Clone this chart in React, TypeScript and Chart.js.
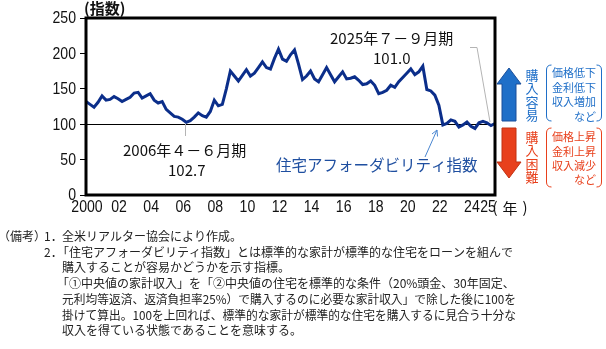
import React, { useEffect, useRef } from "react";
import { Chart, registerables } from "chart.js";

Chart.register(...registerables);

// Quarterly periods 2000Q1 .. 2025Q3
const startYear = 2000;
const endYear = 2025;
const lastQuarter = 3;

// Housing Affordability Index (quarterly)
const hai2000s = [
  132, 128, 124, 131, // 2000
  140, 134, 135, 139, // 2001
  136, 132, 135, 138, // 2002
  144, 145, 137, 140, // 2003
  143, 134, 130, 132, // 2004
  121, 116, 111, 110, // 2005
  107, 102.7, 105, 110, // 2006
  116, 112, 110, 118, // 2007
  134, 126, 128, 150, // 2008
  175, 168, 161, 169, // 2009
];
const hai2010s = [
  177, 168, 172, 180, // 2010
  188, 180, 178, 193, // 2011
  206, 192, 189, 198, // 2012
  205, 185, 163, 168, // 2013
  175, 164, 160, 170, // 2014
  180, 170, 160, 167, // 2015
  174, 164, 165, 167, // 2016
  162, 156, 157, 161, // 2017
  155, 143, 145, 148, // 2018
  155, 152, 160, 166, // 2019
];
const hai2020s = [
  172, 178, 170, 174, // 2020
  182, 149, 147, 141, // 2021
  127, 99, 101, 106, // 2022
  104, 96, 99, 103, // 2023
  97, 94, 102, 104, // 2024
  102, 98, 101.0, // 2025
];

// x tick labels (shown at Q1 of the year)
const tickYears = [2000, 2002, 2004, 2006, 2008, 2010, 2012, 2014, 2016, 2018, 2020, 2022, 2024, 2025];
const tickTexts = ["2000", "02", "04", "06", "08", "10", "12", "14", "16", "18", "20", "22", "24", "25"];

const yTicks = [0, 50, 100, 150, 200, 250];

const notes = [
  "全米リアルター協会により作成。",
  "「住宅アフォーダビリティ指数」とは標準的な家計が標準的な住宅をローンを組んで",
  "購入することが容易かどうかを示す指標。",
  "「①中央値の家計収入」を「②中央値の住宅を標準的な条件（20%頭金、30年固定、",
  "元利均等返済、返済負担率25%）で購入するのに必要な家計収入」で除した後に100を",
  "掛けて算出。100を上回れば、標準的な家計が標準的な住宅を購入するに見合う十分な",
  "収入を得ている状態であることを意味する。",
];

const SANS = "'Liberation Sans', Arial, sans-serif";
const JP = "'Noto Sans CJK JP', sans-serif";

const labels: string[] = [];
for (let y = startYear; y <= endYear; y++) {
  for (let q = 1; q <= 4; q++) {
    if (y === endYear && q > lastQuarter) break;
    labels.push(`${y}Q${q}`);
  }
}
const values = [...hai2000s, ...hai2010s, ...hai2020s];

const BLUE = "#1f6fc8";
const RED = "#e8401c";

function bracket(ctx: CanvasRenderingContext2D, x: number, top: number, bottom: number, dir: number) {
  const r = 5;
  ctx.beginPath();
  ctx.moveTo(x + dir * r, top);
  ctx.quadraticCurveTo(x, top, x, top + r);
  ctx.lineTo(x, bottom - r);
  ctx.quadraticCurveTo(x, bottom, x + dir * r, bottom);
  ctx.stroke();
}

function arrow(ctx: CanvasRenderingContext2D, cx: number, tip: number, headBase: number, tail: number, fill: string, stroke: string) {
  const hw = 12, sw = 7;
  ctx.beginPath();
  ctx.moveTo(cx, tip);
  ctx.lineTo(cx + hw, headBase);
  ctx.lineTo(cx + sw, headBase);
  ctx.lineTo(cx + sw, tail);
  ctx.lineTo(cx - sw, tail);
  ctx.lineTo(cx - sw, headBase);
  ctx.lineTo(cx - hw, headBase);
  ctx.closePath();
  ctx.fillStyle = fill;
  ctx.fill();
  ctx.strokeStyle = stroke;
  ctx.lineWidth = 1;
  ctx.stroke();
}

function narrowText(ctx: CanvasRenderingContext2D, t: string, x: number, y: number, sx: number) {
  ctx.save();
  ctx.translate(x, y);
  ctx.scale(sx, 1);
  ctx.fillText(t, 0, 0);
  ctx.restore();
}

const decorPlugin = {
  id: "decor",
  afterDraw(chart: any) {
    const { ctx, chartArea } = chart;
    const { left, top, right, bottom } = chartArea;
    const xs = chart.scales.x;
    const ysc = chart.scales.y;
    ctx.save();
    // frame
    ctx.strokeStyle = "#000";
    ctx.lineWidth = 3;
    ctx.strokeRect(left, top, right - left, bottom - top);

    // tick labels via the scales
    ctx.fillStyle = "#111";
    ctx.font = `16px ${SANS}`;
    ctx.textBaseline = "middle";
    ctx.textAlign = "right";
    yTicks.forEach((v) => {
      narrowText(ctx, String(v), 76, ysc.getPixelForValue(v) + 1, 0.88);
    });
    ctx.textAlign = "center";
    tickYears.forEach((yr, i) => {
      const idx = labels.indexOf(`${yr}Q1`);
      narrowText(ctx, tickTexts[i], xs.getPixelForValue(idx) + 1, 208, 0.88);
    });

    // (指数)
    ctx.textAlign = "left";
    ctx.font = `bold 15px ${JP}`;
    ctx.fillText("(指数)", 84, 8);

    // (年)
    ctx.font = `15px ${JP}`;
    ctx.textAlign = "center";
    ctx.fillText("(", 495, 207);
    ctx.fillText("年", 510, 208);
    ctx.fillText(")", 525, 207);

    // annotations
    ctx.textAlign = "left";
    ctx.font = `15px ${JP}`;
    ctx.fillStyle = "#111";
    ctx.fillText("2006年４－６月期", 123, 150);
    ctx.fillText("102.7", 168, 170);
    ctx.fillText("2025年７－９月期", 330, 38);
    ctx.fillText("101.0", 373, 58);

    ctx.strokeStyle = "#b4b4b4";
    ctx.lineWidth = 1;
    ctx.beginPath();
    ctx.moveTo(185.5, 124);
    ctx.lineTo(185.5, 136);
    ctx.stroke();
    ctx.beginPath();
    ctx.moveTo(470, 47.5);
    ctx.lineTo(477, 47.5);
    ctx.lineTo(490, 122);
    ctx.stroke();

    // series label
    ctx.fillStyle = "#1f4fa0";
    ctx.font = `15.5px ${JP}`;
    ctx.fillText("住宅アフォーダビリティ指数", 276, 165);
    ctx.strokeStyle = "#4a86d0";
    ctx.lineWidth = 1;
    ctx.beginPath();
    ctx.moveTo(425, 157);
    ctx.lineTo(437, 130);
    ctx.stroke();
    ctx.beginPath();
    ctx.moveTo(432, 134);
    ctx.lineTo(437, 130);
    ctx.lineTo(437.5, 136.5);
    ctx.stroke();

    // right arrows
    arrow(ctx, 509, 68, 84, 121, BLUE, "#1a4f9a");
    arrow(ctx, 509, 178, 162, 128, RED, "#c03010");

    // vertical texts
    ctx.font = `13px ${JP}`;
    ctx.textAlign = "center";
    ctx.fillStyle = BLUE;
    ["購", "入", "容", "易"].forEach((c, i) => ctx.fillText(c, 532, 75 + i * 13.5));
    ctx.fillStyle = RED;
    ["購", "入", "困", "難"].forEach((c, i) => ctx.fillText(c, 532, 137 + i * 13.5));

    // brackets
    ctx.lineWidth = 1;
    ctx.strokeStyle = BLUE;
    bracket(ctx, 546.5, 65, 121, 1);
    bracket(ctx, 601.5, 65, 121, -1);
    ctx.strokeStyle = RED;
    bracket(ctx, 546.5, 128, 187, 1);
    bracket(ctx, 601.5, 128, 187, -1);

    ctx.font = `11px ${JP}`;
    ctx.textAlign = "left";
    ctx.fillStyle = BLUE;
    ["価格低下", "金利低下", "収入増加"].forEach((t, i) => ctx.fillText(t, 552, 73 + i * 14.5));
    ctx.textAlign = "right";
    ctx.fillText("など", 596, 117);
    ctx.textAlign = "left";
    ctx.fillStyle = RED;
    ["価格上昇", "金利上昇", "収入減少"].forEach((t, i) => ctx.fillText(t, 552, 137 + i * 14.5));
    ctx.textAlign = "right";
    ctx.fillText("など", 596, 180);

    // notes
    ctx.fillStyle = "#222";
    ctx.font = `12px ${JP}`;
    ctx.textAlign = "left";
    ctx.fillText("（備考）", -2, 236);
    ctx.fillText("1．", 44, 236);
    ctx.fillText("2．", 44, 252);
    const nx = [62, 57, 62, 57, 62, 62, 62];
    const ny = [236, 252, 267, 283, 299, 315, 330];
    const maxW = [0, 458, 0, 458, 454, 454, 0];
    notes.forEach((t, i) => {
      if (maxW[i] && ctx.measureText(t).width > maxW[i]) {
        ctx.fillText(t, nx[i], ny[i], maxW[i]);
      } else {
        ctx.fillText(t, nx[i], ny[i]);
      }
    });
    ctx.restore();
  },
};

export default function App() {
  const ref = useRef<HTMLCanvasElement>(null);
  useEffect(() => {
    if (!ref.current) return;
    const chart = new Chart(ref.current, {
      type: "line",
      data: {
        labels,
        datasets: [
          {
            data: values,
            borderColor: "#0b2e8a",
            borderWidth: 3,
            pointRadius: 0,
            tension: 0,
            fill: false,
          },
        ],
      },
      options: {
        animation: false,
        responsive: false,
        maintainAspectRatio: false,
        layout: { padding: { left: 0, top: 18, right: 111, bottom: 0 } },
        plugins: { legend: { display: false }, tooltip: { enabled: false } },
        scales: {
          x: {
            type: "category",
            offset: false,
            grid: { display: false },
            border: { display: false },
            ticks: { display: false },
            afterFit: (s: any) => {
              s.height = 154;
            },
          },
          y: {
            min: 0,
            max: 250,
            afterBuildTicks: (s: any) => {
              s.ticks = yTicks.map((v) => ({ value: v }));
            },
            grid: {
              drawTicks: true,
              tickLength: 6,
              tickColor: "#000",
              lineWidth: 1,
              color: (c: any) => (c.tick && c.tick.value === 100 ? "#000" : "rgba(0,0,0,0)"),
            },
            border: { display: false },
            ticks: { display: false },
            afterFit: (s: any) => {
              s.width = 86;
            },
          },
        },
      },
      plugins: [decorPlugin],
    });
    return () => chart.destroy();
  }, []);
  return (
    <div style={{ position: "fixed", left: 0, top: 0, width: 606, height: 349, background: "#fff" }}>
      <canvas ref={ref} width={606} height={349} style={{ width: 606, height: 349 }} />
    </div>
  );
}
